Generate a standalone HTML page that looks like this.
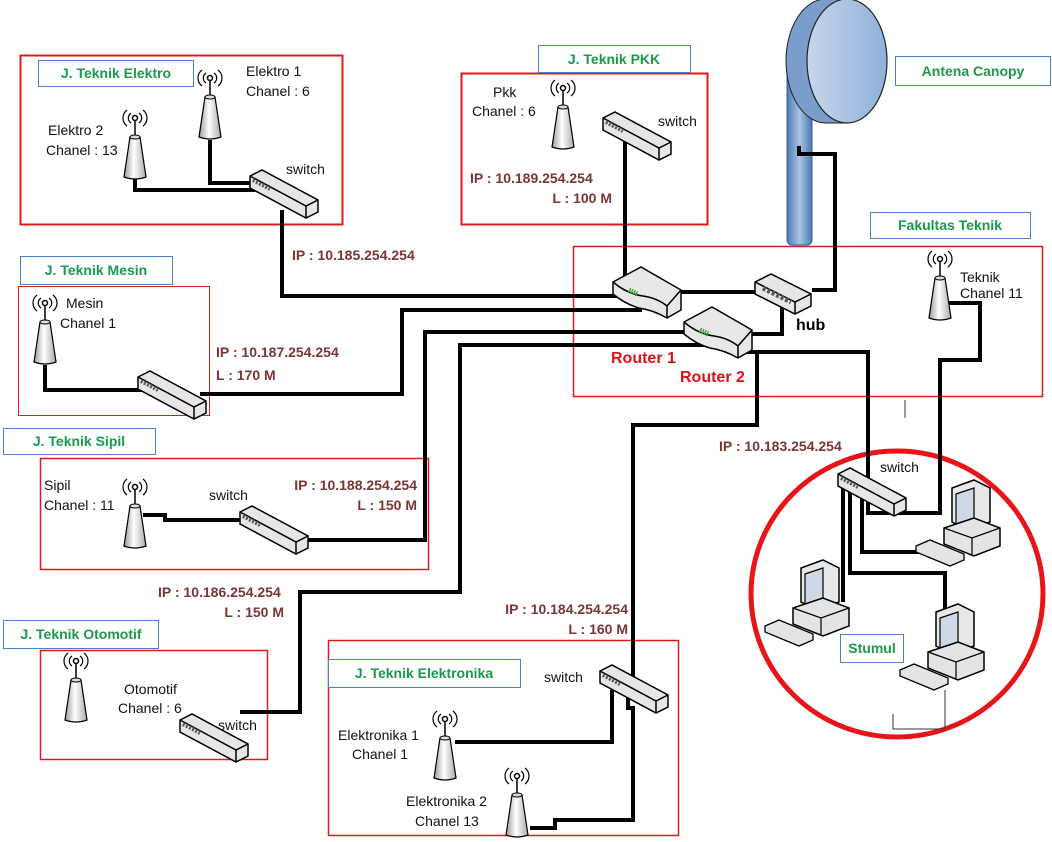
<!DOCTYPE html>
<html><head><meta charset="utf-8"><style>
html,body{margin:0;padding:0;background:#fff;}
svg{display:block;font-family:"Liberation Sans",Arial,sans-serif;}
.t{font-size:14px;fill:#111;}
.ip{font-size:14px;font-weight:bold;fill:#7b3535;}
.g{font-size:14px;font-weight:bold;fill:#1a9a4a;}
.r{font-size:16px;font-weight:bold;fill:#e0101a;}
.L{fill:none;stroke:#000;stroke-width:4;stroke-linejoin:miter;}
</style></head><body>
<svg width="1052" height="842" viewBox="0 0 1052 842">
<defs>
<linearGradient id="cone" x1="0" x2="1"><stop offset="0" stop-color="#999"/><stop offset=".45" stop-color="#fff"/><stop offset="1" stop-color="#aaa"/></linearGradient>
<linearGradient id="pole" x1="0" x2="1"><stop offset="0" stop-color="#4a78b0"/><stop offset=".5" stop-color="#a9c4e6"/><stop offset="1" stop-color="#4a78b0"/></linearGradient>
<linearGradient id="dish" x1="0" x2="1"><stop offset="0" stop-color="#c6d6ec"/><stop offset="1" stop-color="#8fb0da"/></linearGradient>
<g id="ant">
<path d="M-4,-24 a6,6 0 0 0 0,10 M-8,-27 a10,10 0 0 0 0,16 M4,-24 a6,6 0 0 1 0,10 M8,-27 a10,10 0 0 1 0,16" fill="none" stroke="#000" stroke-width="1.2"/>
<circle cx="0" cy="-19" r="2.5" fill="none" stroke="#000" stroke-width="1.5"/>
<line x1="0" y1="-16" x2="0" y2="-2" stroke="#000" stroke-width="1.5"/>
<path d="M-5,0 L5,0 L11,40 Q0,44 -11,40 Z" fill="url(#cone)" stroke="#000" stroke-width="1.2"/>
<ellipse cx="0" cy="0" rx="5" ry="2" fill="#ddd" stroke="#000"/>
</g>
<g id="sw">
<path d="M0,0 L12,-6 L68,24 L68,36 L56,42 L0,12 Z" fill="#e6e6e6" stroke="#000" stroke-width="1.5"/>
<path d="M0,0 L56,30 L68,24 M56,30 L56,42" fill="none" stroke="#000" stroke-width="1.5"/>
<path d="M3,4 L20,13" stroke="#555" stroke-width="4" stroke-dasharray="2 1.5"/>
</g>
<g id="rt">
<path d="M0,10 L28,-5 L68,18 L68,38 L54,46 Q40,38 26,36 Q12,32 0,22 Z" fill="#e8e8e8" stroke="#000" stroke-width="1.5"/>
<path d="M0,10 Q14,22 30,24 Q44,26 54,34 L68,18 M54,34 L54,46" fill="none" stroke="#000" stroke-width="1.5"/>
<path d="M16,18 L24,22" stroke="#3a3" stroke-width="5" stroke-dasharray="1.5 1"/>
</g>
<g id="pc">
<path d="M8,0 L30,-8 L46,0 L46,34 L24,42 L8,34 Z" fill="#e8e8e8" stroke="#000" stroke-width="1.5"/>
<path d="M12,6 L30,0 L30,30 L12,36 Z" fill="#cfd8e6" stroke="#000" stroke-width="1.2"/>
<path d="M0,40 L30,30 L56,40 L56,58 L30,68 L0,56 Z" fill="#e4e4e4" stroke="#000" stroke-width="1.5"/>
<path d="M0,40 L28,50 L56,40 M28,50 L28,68" fill="none" stroke="#000" stroke-width="1.2"/>
<path d="M-28,58 L-14,52 L20,66 L20,72 L6,78 L-28,64 Z" fill="#e4e4e4" stroke="#000" stroke-width="1.3"/>
</g>
</defs>

<g fill="none" stroke="#e01a1a">
<rect x="20.5" y="55.5" width="322" height="169" stroke-width="2"/>
<rect x="461.5" y="73.5" width="246" height="151" stroke-width="2"/>
<rect x="18.5" y="286.5" width="191" height="129" stroke-width="1"/>
<rect x="573.5" y="246.5" width="469" height="150" stroke-width="1.5"/>
<rect x="40.5" y="458.5" width="388" height="111" stroke-width="1.5"/>
<rect x="40.5" y="650.5" width="227" height="109" stroke-width="1.5"/>
<rect x="328.5" y="640.5" width="350" height="195" stroke-width="1.5"/>
</g>
<ellipse cx="897" cy="594" rx="146" ry="143" fill="none" stroke="#e8141a" stroke-width="5"/>

<!-- antenna canopy -->
<rect x="787" y="70" width="25" height="175" rx="5" fill="url(#pole)" stroke="#3a5f90"/>
<path d="M847,0 L826,0 A40,62 0 0 0 826,123 L847,123 Z" fill="#6f93c4" stroke="none"/>
<ellipse cx="826" cy="61" rx="40" ry="62" fill="#7a9dcc" stroke="#222"/>
<rect x="826" y="0" width="21" height="123" fill="#7a9dcc"/>
<path d="M826,-1 L847,-1 M826,123 L847,123" stroke="#222"/>
<ellipse cx="847" cy="61" rx="40" ry="62" fill="url(#dish)" stroke="#222" stroke-width="1.2"/>

<g class="L">
<polyline points="135,178 135,190 255,190"/>
<polyline points="210,140 210,183 258,183"/>
<polyline points="282,210 282,296 628,296"/>
<polyline points="625,135 625,285"/>
<polyline points="45,365 45,390 145,390"/>
<polyline points="200,394 402,394 402,310 640,310 640,300"/>
<polyline points="143,515 165,515 165,520 245,520"/>
<polyline points="300,540 425,540 425,332 690,332"/>
<polyline points="240,712 300,712 300,592 460,592 460,345 705,345"/>
<polyline points="455,742 612,742 612,690"/>
<polyline points="530,828 555,828 555,820 633,820 633,708 628,708 628,692 633,692 633,425 757,425 757,350"/>
<polyline points="645,292 762,292"/>
<polyline points="782,302 782,334 700,334"/>
<polyline points="812,290 835,290 835,154 799,154 799,146"/>
<polyline points="742,352 868,352 868,513 940,513 940,360 980,360 980,303 948,303"/>
<polyline points="843,488 843,602"/>
<polyline points="850,488 850,573 945,573 945,612"/>
<polyline points="862,494 862,552 950,552"/>
</g>
<polyline points="893,714 893,729 945,729 945,690" fill="none" stroke="#333" stroke-width="1"/>
<line x1="905" y1="400" x2="905" y2="418" stroke="#333" stroke-width="1"/>

<use href="#ant" x="210" y="97"/>
<use href="#ant" x="135" y="137"/>
<use href="#ant" x="563" y="107"/>
<use href="#ant" x="45" y="322"/>
<use href="#ant" x="940" y="278"/>
<use href="#ant" x="135" y="506"/>
<use href="#ant" x="76" y="680"/>
<use href="#ant" x="445" y="738"/>
<use href="#ant" x="517" y="795"/>
<use href="#sw" x="250" y="176"/>
<use href="#sw" x="603" y="118"/>
<use href="#sw" x="138" y="377"/>
<use href="#sw" x="240" y="512"/>
<use href="#sw" x="180" y="720"/>
<use href="#sw" x="600" y="671"/>
<use href="#sw" x="838" y="474"/>
<use href="#rt" x="613" y="272"/>
<use href="#rt" x="684" y="312"/>
<g transform="translate(755,282)">
<path d="M0,0 L16,-8 L56,12 L56,24 L40,32 L0,12 Z" fill="#e6e6e6" stroke="#000" stroke-width="1.5"/>
<path d="M0,0 L40,20 L56,12 M40,20 L40,32" fill="none" stroke="#000" stroke-width="1.5"/>
<path d="M8,6 L36,20" stroke="#555" stroke-width="5" stroke-dasharray="3 2"/>
</g>
<use href="#pc" x="944" y="488"/>
<use href="#pc" x="793" y="568"/>
<use href="#pc" x="928" y="612"/>

<g fill="#fff" stroke="#4a7fd0" stroke-width="1">
<rect x="38.5" y="60.5" width="155" height="26"/>
<rect x="538.5" y="45.5" width="152" height="27"/>
<rect x="895.5" y="56.5" width="155" height="29"/>
<rect x="870.5" y="212.5" width="160" height="26"/>
<rect x="20.5" y="256.5" width="152" height="28"/>
<rect x="3.5" y="428.5" width="152" height="26"/>
<rect x="3.5" y="620.5" width="155" height="28"/>
<rect x="328.5" y="659.5" width="192" height="28"/>
<rect x="840.5" y="634.5" width="63" height="28"/>
</g>
<text class="g" x="116" y="78" text-anchor="middle">J. Teknik Elektro</text>
<text class="g" x="614" y="64" text-anchor="middle">J. Teknik PKK</text>
<text class="g" x="973" y="76" text-anchor="middle">Antena Canopy</text>
<text class="g" x="950" y="230" text-anchor="middle">Fakultas Teknik</text>
<text class="g" x="96" y="275" text-anchor="middle">J. Teknik Mesin</text>
<text class="g" x="79" y="446" text-anchor="middle">J. Teknik Sipil</text>
<text class="g" x="81" y="639" text-anchor="middle">J. Teknik Otomotif</text>
<text class="g" x="424" y="678" text-anchor="middle">J. Teknik Elektronika</text>
<text class="g" x="872" y="653" text-anchor="middle">Stumul</text>

<g class="t">
<text x="246" y="76">Elektro 1</text><text x="246" y="96">Chanel : 6</text>
<text x="48" y="135">Elektro 2</text><text x="46" y="155">Chanel : 13</text>
<text x="286" y="174">switch</text>
<text x="493" y="97">Pkk</text><text x="472" y="116">Chanel : 6</text>
<text x="658" y="126">switch</text>
<text x="66" y="308">Mesin</text><text x="60" y="328">Chanel 1</text>
<text x="960" y="282">Teknik</text><text x="960" y="298">Chanel 11</text>
<text x="44" y="490">Sipil</text><text x="44" y="510">Chanel : 11</text>
<text x="209" y="500">switch</text>
<text x="124" y="694">Otomotif</text><text x="118" y="713">Chanel : 6</text>
<text x="218" y="730">switch</text>
<text x="544" y="682">switch</text>
<text x="338" y="740">Elektronika 1</text><text x="352" y="759">Chanel 1</text>
<text x="406" y="806">Elektronika 2</text><text x="415" y="826">Chanel 13</text>
<text x="880" y="472">switch</text>
</g>
<text x="796" y="330" style="font-size:16px;font-weight:bold">hub</text>
<text class="r" x="611" y="363">Router 1</text>
<text class="r" x="680" y="382">Router 2</text>

<g class="ip">
<text x="292" y="260">IP : 10.185.254.254</text>
<text x="470" y="183">IP : 10.189.254.254</text><text x="612" y="203" text-anchor="end">L : 100 M</text>
<text x="216" y="357">IP : 10.187.254.254</text><text x="216" y="380">L : 170 M</text>
<text x="417" y="490" text-anchor="end">IP : 10.188.254.254</text><text x="417" y="510" text-anchor="end">L : 150 M</text>
<text x="158" y="597">IP : 10.186.254.254</text><text x="284" y="617" text-anchor="end">L : 150 M</text>
<text x="628" y="614" text-anchor="end">IP : 10.184.254.254</text><text x="628" y="634" text-anchor="end">L : 160 M</text>
<text x="719" y="451">IP : 10.183.254.254</text>
</g>
</svg>
</body></html>
